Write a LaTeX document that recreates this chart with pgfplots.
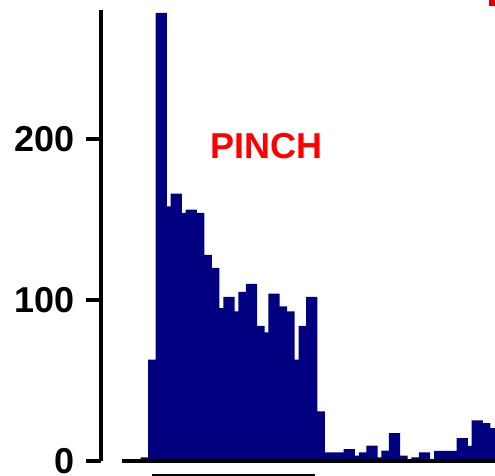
\documentclass[border=0pt]{standalone}
\usepackage{fontspec}
\setmainfont{Liberation Sans}
\usepackage{pgfplots}
\pgfplotsset{compat=1.18}
\definecolor{barnavy}{RGB}{0,0,128}
\definecolor{pinchred}{RGB}{255,0,0}
\begin{document}
\begin{tikzpicture}[x=1pt,y=1pt]
\useasboundingbox (0,0) rectangle (495,476);
\clip (0,0) rectangle (495,476);
\begin{axis}[
  at={(101pt,14.7pt)}, anchor=south west,
  scale only axis,
  width=394pt, height=451.6pt,
  xmin=-8, xmax=44.36,
  ymin=0, ymax=280,
  clip=false,
  axis y line*=left,
  axis x line=none,
  xtick=\empty,
  ytick={0,100,200},
  tick align=outside,
  major tick length=15pt,
  y axis line style={line width=3.7pt},
  tick style={line width=4pt, black},
  /pgf/number format/assume math mode=true,
  yticklabel style={font=\fontsize{36}{36}\selectfont\bfseries, inner sep=0pt, xshift=-11pt},
]
\addplot[ybar, bar width=1.49, bar shift=0pt, fill=barnavy, draw=none] coordinates {
(-2,2.5) (-1,63) (0,278) (1,158) (2,166) (3,154) (4,156) (5,154) (6,128) (7,120)
(8,95) (9,102) (10,93) (11,105) (12,110) (13,84) (14,80) (15,104) (16,96) (17,93)
(18,63) (19,84) (20,102) (21,31) (22,5.6) (23,5.6) (24,5.6) (25,7.6) (26,3.5) (27,5.6)
(28,9.7) (29,2.5) (30,6.6) (31,17.4) (32,3.5) (33,0) (34,2.5) (35,5.6) (36,0) (37,6.4)
(38,6.4) (39,6.4) (40,14.4) (41,9.5) (42,25.4) (43,23.6) (44,20.5)
};
\draw[line width=4pt, black] (axis cs:-5.27,0) -- (axis cs:46,0);
\draw[line width=1.7pt, black] (axis cs:-1.26,-8.7) -- (axis cs:20.44,-8.7);
\node[text=pinchred, font=\fontsize{36}{36}\selectfont\bfseries] at (axis cs:14,195.5) {PINCH};
\end{axis}
\fill[red!85!black] (489.3,470) rectangle (495,476);
\end{tikzpicture}
\end{document}
